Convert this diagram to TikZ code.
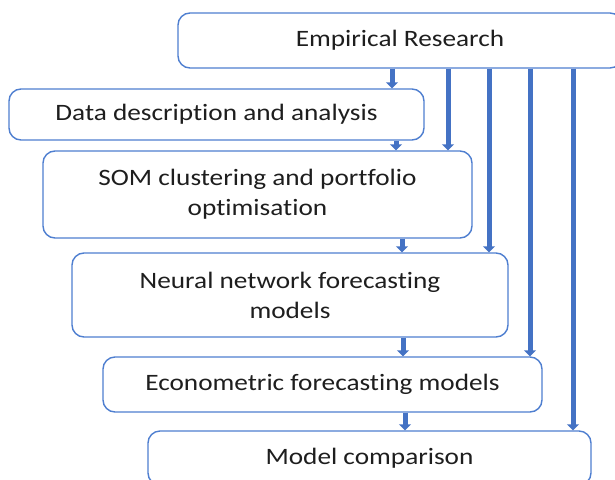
\documentclass[tikz,border=0pt]{standalone}
\usepackage{fontspec}
\setmainfont{Carlito}[FakeStretch=1.16, Ligatures=NoCommon]
\usetikzlibrary{arrows.meta}
\definecolor{officeblue}{HTML}{4472C4}
\definecolor{boxline}{HTML}{4F7FD0}
\definecolor{ink}{HTML}{1E1E1E}
\tikzset{
  stage/.style={draw=boxline, line width=1.4pt, rounded corners=12pt, fill=white,
    inner sep=0pt, align=center, text=ink, font=\fontsize{23.5}{30}\selectfont},
  flow/.style={draw=officeblue, line width=5pt,
    -{Triangle[width=12pt,length=6pt]}}
}
\begin{document}
\begin{tikzpicture}[x=1pt,y=-1pt]
  \useasboundingbox (0,0) rectangle (615,479);
  \clip (0,0) rectangle (615,479);
  \fill[white] (0,0) rectangle (615,479);

  % stages of the study
  \node[stage, minimum width=444pt, minimum height=55pt] (er) at (400,40.5) {Empirical Research};
  \node[stage, minimum width=415pt, minimum height=51pt] (data) at (216.5,114.5) {Data description and analysis};
  \node[stage, minimum width=429pt, minimum height=87pt] (som) at (257.5,194.5) {SOM clustering and portfolio\\optimisation};
  \node[stage, minimum width=436pt, minimum height=84pt] (nn) at (290,295) {Neural network forecasting\\models};
  \node[stage, minimum width=439pt, minimum height=55pt] (econ) at (322.5,384.5) {Econometric forecasting models};
  \node[stage, minimum width=443pt, minimum height=54pt] (cmp) at (369.5,458) {Model comparison};

  % columns of the feeder arrows
  \coordinate (c1) at (392,0);
  \coordinate (c2) at (448,0);
  \coordinate (c3) at (489,0);
  \coordinate (c4) at (530,0);
  \coordinate (c5) at (573,0);
  \coordinate (d1) at (396,0);
  \coordinate (d2) at (402,0);
  \coordinate (d3) at (403,0);
  \coordinate (d4) at (405,0);

  % from the research box to every stage
  \draw[flow] (c1 |- er.south) -- (c1 |- data.north);
  \draw[flow] (c2 |- er.south) -- (c2 |- som.north);
  \draw[flow] (c3 |- er.south) -- (c3 |- nn.north);
  \draw[flow] (c4 |- er.south) -- (c4 |- econ.north);
  \draw[flow] (c5 |- er.south) -- (c5 |- cmp.north);

  % stage to stage
  \draw[flow] (d1 |- data.south) -- (d1 |- som.north);
  \draw[flow] (d2 |- som.south) -- (d2 |- nn.north);
  \draw[flow] (d3 |- nn.south) -- (d3 |- econ.north);
  \draw[flow] (d4 |- econ.south) -- (d4 |- cmp.north);
\end{tikzpicture}
\end{document}
